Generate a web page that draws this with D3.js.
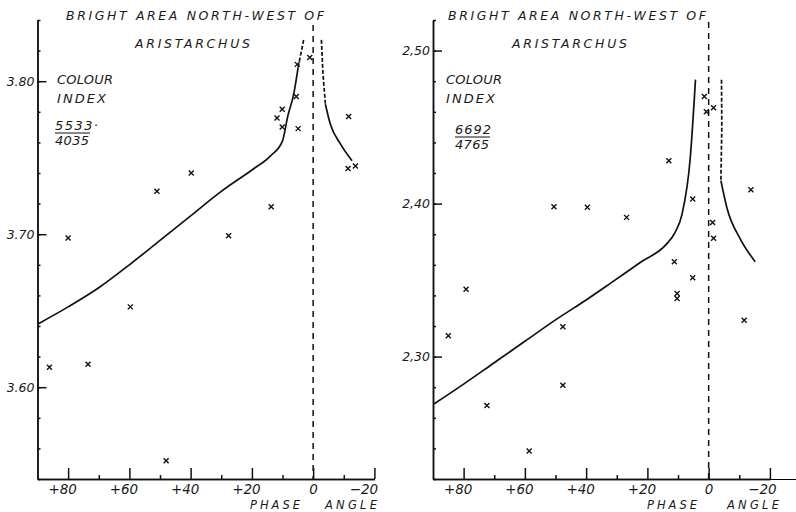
<!DOCTYPE html>
<html>
<head>
<meta charset="utf-8">
<script src="https://cdn.jsdelivr.net/npm/d3@7"></script>
<style>
  body { margin: 0; background: #fff; }
  text { font-family: "DejaVu Sans", "Liberation Sans", sans-serif; font-style: italic; fill: #1a1a1a; }
</style>
</head>
<body>
<script>
const width = 796;
const height = 512;

// phase angle axis (degrees), same for both panels
const phaseTicks = [80, 60, 40, 20, 0, -20];
const phaseMinor = [70, 50, 30, 10, -10];

// left panel: colour index 5533/4035
const leftLabels = [3.60, 3.70, 3.80];
const leftPoints = [
  [86.1, 3.613], [80.0, 3.6975], [73.5, 3.615], [59.7, 3.6525], [51.0, 3.728],
  [48.0, 3.552], [39.8, 3.740], [27.6, 3.699], [13.7, 3.718], [11.8, 3.776],
  [10.1, 3.7816], [10.1, 3.770], [5.5, 3.790], [5.2, 3.811], [4.9, 3.769],
  [1.1, 3.8155], [-11.6, 3.777], [-11.4, 3.743], [-13.8, 3.7445]
];
const leftCurve = [
  [89.7, 3.6415], [80, 3.6525], [70, 3.665], [60, 3.680], [50, 3.696], [40, 3.712],
  [30, 3.728], [20, 3.742], [14, 3.751], [10, 3.761], [8.3, 3.777], [6.3, 3.792], [4.9, 3.809]
];
const leftCurveDash = [[4.9, 3.809], [3.1, 3.827]];
const leftCurveNeg = [[-4.0, 3.785], [-5.6, 3.772], [-8.9, 3.759], [-12.7, 3.748]];
const leftCurveNegDash = [[-2.7, 3.827], [-3.2, 3.805], [-4.0, 3.785]];

// right panel: colour index 6692/4765
const rightLabels = [2.30, 2.40, 2.50];
const rightPoints = [
  [85.0, 2.3137], [79.2, 2.344], [72.4, 2.268], [58.6, 2.2383], [50.5, 2.398],
  [47.6, 2.3195], [47.6, 2.2813], [39.6, 2.3976], [26.8, 2.391], [13.0, 2.428],
  [11.2, 2.362], [10.3, 2.3413], [10.3, 2.338], [5.2, 2.403], [5.2, 2.3515],
  [1.4, 2.470], [0.75, 2.460], [-1.6, 2.4627], [-1.3, 2.3877], [-1.6, 2.3773],
  [-11.6, 2.3237], [-13.8, 2.409]
];
const rightCurve = [
  [89.7, 2.269], [80, 2.282], [70, 2.296], [60, 2.310], [50, 2.324], [40, 2.337],
  [32, 2.348], [22, 2.362], [14, 2.373], [11, 2.381], [8.7, 2.393], [6.0, 2.430], [4.3, 2.481]
];
const rightCurveNeg = [[-4.0, 2.415], [-6.0, 2.397], [-10.3, 2.377], [-15.2, 2.362]];
const rightCurveNegDash = [[-4.2, 2.481], [-4.3, 2.45], [-4.0, 2.415]];

const svg = d3.select("body").append("svg")
  .attr("width", width).attr("height", height);

function drawPanel(p) {
  const x = d3.scaleLinear().domain([90, -20]).range([p.x0, p.x0 + 336.9]);
  const y = d3.scaleLinear().domain(p.yDomain).range([479, 20]);
  const g = svg.append("g");

  // y axis: minor ticks every 0.02, major with labels
  const minorY = d3.range(0, 16).map(i => +(p.yDomain[0] + i * 0.02).toFixed(2));
  g.append("g").attr("transform", `translate(${p.x0},0)`)
    .call(d3.axisLeft(y).tickValues(minorY).tickSize(-3).tickSizeOuter(0).tickFormat(""));
  g.append("g").attr("transform", `translate(${p.x0},0)`)
    .call(d3.axisLeft(y).tickValues(p.labels).tickSize(-9).tickSizeOuter(0).tickPadding(2)
      .tickFormat(d => p.fmt(d)))
    .call(a => a.selectAll("text").attr("font-size", 12.5).attr("dx", "-1"));

  // x axis
  g.append("g").attr("transform", "translate(0,479)")
    .call(d3.axisBottom(x).tickValues(phaseMinor).tickSize(-4).tickSizeOuter(0).tickFormat(""));
  g.append("g").attr("transform", "translate(0,479)")
    .call(d3.axisBottom(x).tickValues(phaseTicks).tickSize(-11).tickSizeOuter(0).tickPadding(5)
      .tickFormat(d => d > 0 ? "+" + d : d < 0 ? "\u2212" + (-d) : "0"))
    .call(a => a.selectAll("text").attr("font-size", 13.5)
      .attr("dx", d => d > 0 ? -6 : d < 0 ? p.negDx : 0));
  if (p.extend) {
    g.append("line").attr("x1", x(-20)).attr("x2", x(p.extend))
      .attr("y1", 479.5).attr("y2", 479.5).attr("stroke", "#000");
  }
  g.selectAll(".domain, .tick line").attr("stroke", "#111").attr("stroke-width", 1.5);

  // zero phase dashed line
  g.append("line")
    .attr("x1", x(0)).attr("x2", x(0)).attr("y1", p.zeroTop).attr("y2", 479)
    .attr("stroke", "#111").attr("stroke-width", 1.5).attr("stroke-dasharray", "6,5");

  const smooth = d3.line().x(d => x(d[0])).y(d => y(d[1])).curve(d3.curveMonotoneX);
  const straight = d3.line().x(d => x(d[0])).y(d => y(d[1]));
  p.solid.forEach(c => g.append("path").attr("d", smooth(c))
    .attr("fill", "none").attr("stroke", "#111").attr("stroke-width", 1.7));
  p.dashed.forEach(c => g.append("path").attr("d", straight(c))
    .attr("fill", "none").attr("stroke", "#111").attr("stroke-width", 1.7)
    .attr("stroke-dasharray", "4,2"));

  g.selectAll(".pt").data(p.points).enter().append("path")
    .attr("transform", d => `translate(${x(d[0])},${y(d[1])})`)
    .attr("d", "M-2.5,-2.5L2.5,2.5M2.5,-2.5L-2.5,2.5")
    .attr("stroke", "#111").attr("stroke-width", 1.4);

  // lettering
  const t = (s, tx, ty, len, size) => svg.append("text").text(s)
    .attr("x", tx).attr("y", ty).attr("font-size", size)
    .attr("textLength", len).attr("lengthAdjust", "spacing");
  t("BRIGHT AREA NORTH-WEST OF", p.titleX, 20, 258, 12.5);
  t("ARISTARCHUS", p.sub[0], 48, p.sub[1], 12.5);
  t("COLOUR", p.ci[0], p.ci[1], 56, 13);
  t("INDEX", p.ci[0], p.ci[1] + 19, 49, 13);
  t(p.num, p.frac[0], p.frac[1], p.numLen, 13);
  t(p.den, p.frac[0], p.frac[1] + 15, 34, 13);
  svg.append("line").attr("x1", p.frac[0]).attr("x2", p.frac[0] + 35)
    .attr("y1", p.frac[1] + 3).attr("y2", p.frac[1] + 3)
    .attr("stroke", "#111").attr("stroke-width", 1);
  t("PHASE", p.phase[0], 508.5, 50, 11.5);
  t("ANGLE", p.phase[1], 508.5, 52, 11.5);
}

drawPanel({
  x0: 37.5, yDomain: [3.54, 3.84], labels: leftLabels, fmt: d3.format(".2f"),
  points: leftPoints, solid: [leftCurve, leftCurveNeg], dashed: [leftCurveDash, leftCurveNegDash],
  zeroTop: 25, negDx: -11, extend: null,
  titleX: 66, sub: [135, 115], ci: [57, 84], num: "5533·", numLen: 43, den: "4035",
  frac: [55, 130], phase: [250, 325]
});

drawPanel({
  x0: 433, yDomain: [2.22, 2.52], labels: rightLabels, fmt: d => d3.format(".2f")(d).replace(".", ","),
  points: rightPoints, solid: [rightCurve, rightCurveNeg], dashed: [rightCurveNegDash],
  zeroTop: 22, negDx: -8, extend: -28.5,
  titleX: 448, sub: [512, 115], ci: [446, 84], num: "6692", numLen: 36, den: "4765",
  frac: [455, 134], phase: [647, 727]
});
</script>
</body>
</html>
